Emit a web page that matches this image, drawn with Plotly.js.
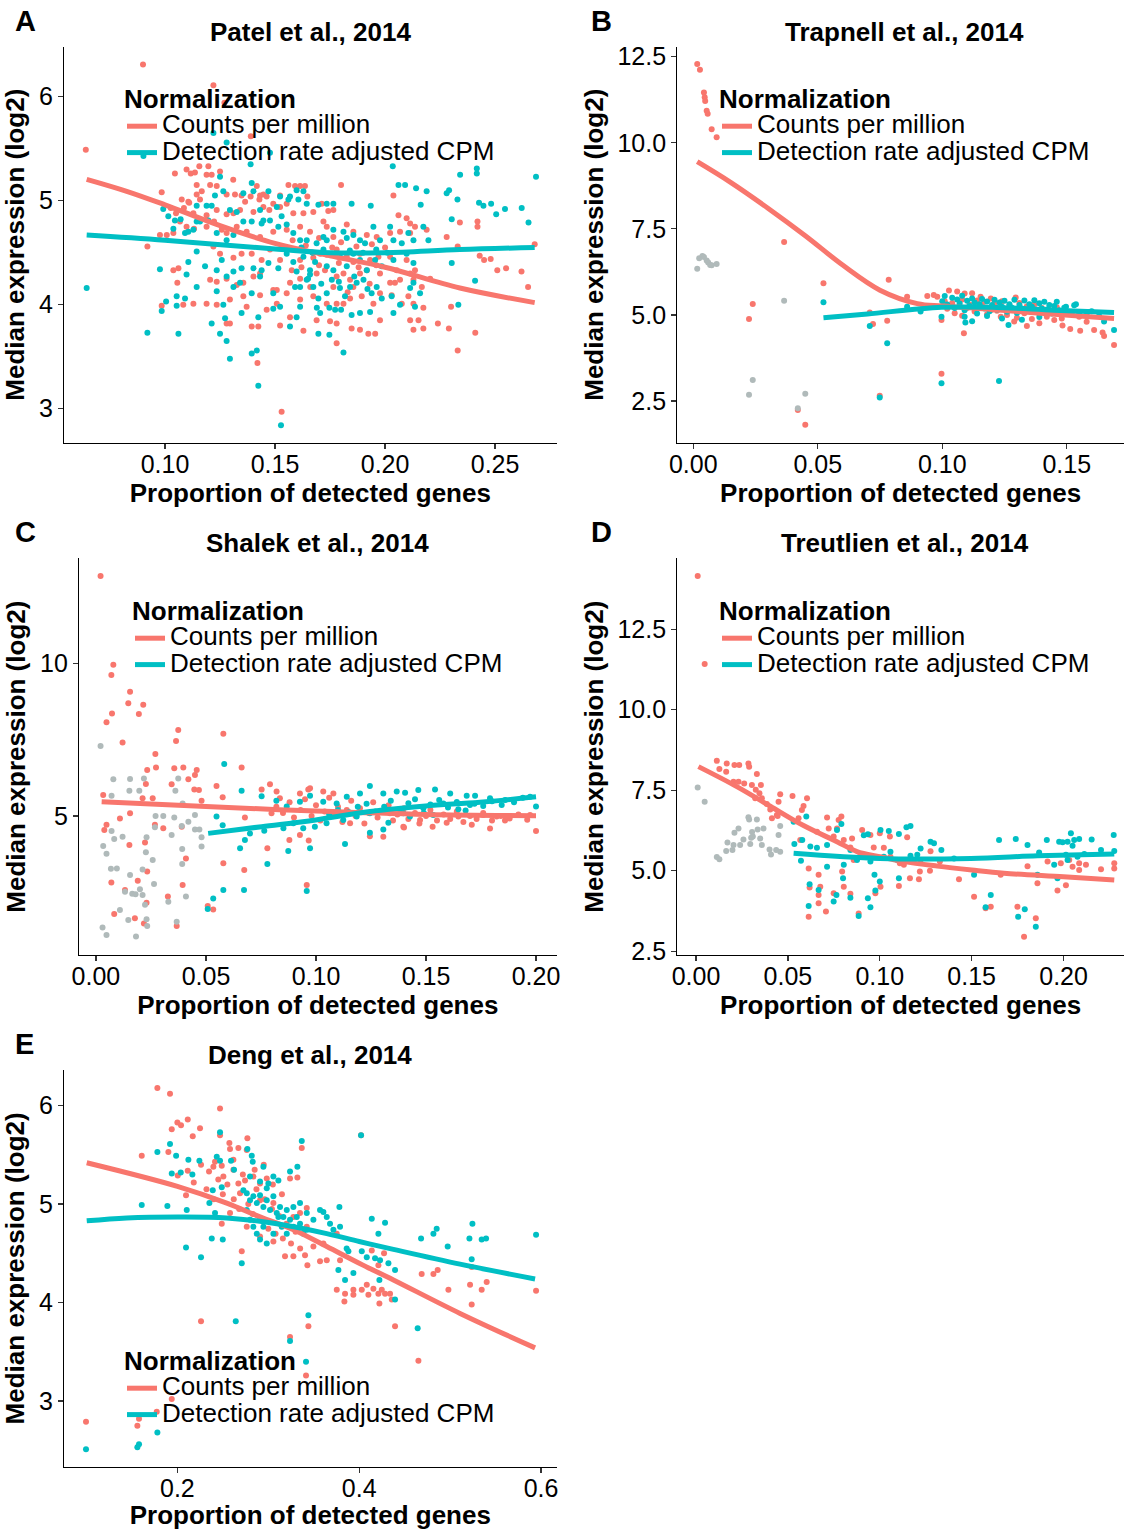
<!DOCTYPE html>
<html>
<head>
<meta charset="utf-8">
<script src="https://cdn.plot.ly/plotly-3.0.1.min.js"></script>
<style>html,body{margin:0;padding:0;background:#fff;}#chart{width:1124px;height:1530px;}</style>
</head>
<body>
<div id="chart"></div>
<script>
// ---------- Panel titles / labels ----------
const panelLetters = ['A', 'B', 'C', 'D', 'E'];
const panelTitles = ['Patel et al., 2014', 'Trapnell et al., 2014', 'Shalek et al., 2014', 'Treutlien et al., 2014', 'Deng et al., 2014'];
const seriesNames = ['Counts per million', 'Detection rate adjusted CPM'];
const legendTitle = 'Normalization';
const xAxisTitle = 'Proportion of detected genes';
const yAxisTitle = 'Median expression (log2)';

// ---------- A: Patel ----------
const patelCpm = [[0.090,6.31],[0.064,5.49],[0.122,6.11],[0.127,5.94],[0.139,5.62],[0.092,4.56],[0.153,2.97],[0.142,3.44],[0.233,3.56],[0.241,3.73],[0.268,4.58],[0.265,4.17],[0.262,4.32],[0.251,4.33],[0.255,4.35],[0.248,4.44],[0.245,4.43],[0.243,4.47],[0.242,4.75],[0.242,4.80],[0.234,4.79],[0.228,4.65],[0.229,3.77],[0.224,3.82],[0.230,3.98],[0.233,4.56],
[0.1045,5.26],[0.1098,5.30],[0.1117,5.26],[0.1136,5.27],[0.1156,5.33],[0.1197,5.33],[0.1189,5.25],[0.1212,5.25],[0.125,5.28],[0.131,5.20],
[0.0985,5.08],[0.1076,5.01],[0.111,4.98],[0.1144,5.15],[0.1144,5.06],[0.1167,5.09],[0.1205,5.15],[0.1235,5.14],[0.128,5.06],[0.1318,5.06],[0.1348,5.05],[0.1389,5.04],[0.1417,5.14],[0.1432,5.05],[0.1447,5.06],[0.1462,5.04],[0.1492,4.97],[0.1523,5.05],[0.1561,5.15],[0.1591,5.14],[0.1614,5.14],[0.1636,5.14],[0.1647,5.04],[0.180,5.15],
[0.1026,4.93],[0.105,4.88],[0.1086,4.93],[0.1106,4.99],[0.1129,4.88],[0.1159,5.01],[0.1189,4.86],[0.1235,4.91],[0.128,4.87],[0.1311,4.88],[0.1341,4.91],[0.1364,4.99],[0.1402,4.89],[0.1429,5.01],[0.1447,4.94],[0.1474,4.91],[0.1523,4.94],[0.1553,4.97],[0.1583,4.88],[0.1629,4.88],[0.1674,4.89],[0.1712,4.97],[0.1742,4.90],[0.1765,4.91],[0.2038,5.05],[0.2061,4.86],[0.2098,4.83],
[0.0977,4.67],[0.1008,4.67],[0.1038,4.69],[0.1068,4.80],[0.1098,4.75],[0.1132,4.73],[0.1189,4.75],[0.1223,4.80],[0.1258,4.72],[0.128,4.69],[0.1326,4.75],[0.1371,4.70],[0.1432,4.65],[0.1492,4.70],[0.1553,4.72],[0.1614,4.75],[0.1659,4.70],[0.172,4.80],[0.1735,4.75],[0.1765,4.65],[0.1826,4.77],[0.1856,4.70],[0.1917,4.67],[0.1962,4.65],[0.2023,4.69],[0.2068,4.70],[0.2114,4.69],[0.2136,4.75],[0.2189,4.72],[0.2114,4.78],
[0.1038,4.33],[0.1061,4.35],[0.122,4.56],[0.125,4.49],[0.1311,4.45],[0.1348,4.49],[0.1394,4.49],[0.1439,4.43],[0.1477,4.53],[0.1523,4.43],[0.1576,4.33],[0.1614,4.43],[0.1674,4.45],[0.1705,4.49],[0.1735,4.48],[0.178,4.53],[0.1826,4.46],[0.1856,4.41],[0.1886,4.49],[0.1932,4.43],[0.197,4.46],[0.2023,4.46],[0.2053,4.33],[0.2098,4.43],[0.2136,4.33],
[0.1056,4.21],[0.1205,4.24],[0.1235,4.22],[0.128,4.25],[0.1326,4.19],[0.1356,4.21],[0.1402,4.27],[0.1432,4.30],[0.1492,4.14],[0.1508,4.14],[0.1568,4.21],[0.1614,4.25],[0.1689,4.30],[0.1727,4.33],[0.1765,4.17],[0.178,4.27],[0.1811,4.30],[0.1841,4.24],[0.1856,4.17],[0.1886,4.30],[0.1917,4.33],[0.1977,4.30],[0.2023,4.21],[0.2045,4.21],[0.2068,4.24],[0.2114,4.30],[0.2167,4.17],[0.2205,4.25],[0.2129,4.24],
[0.0985,3.99],[0.1083,4.00],[0.1129,4.01],[0.1189,4.01],[0.1235,4.00],[0.1295,4.05],[0.1356,4.08],[0.1371,3.98],[0.1432,4.09],[0.1462,3.95],[0.1508,4.01],[0.1553,4.11],[0.1614,4.05],[0.1674,4.08],[0.1735,4.01],[0.178,4.01],[0.1811,4.01],[0.1841,4.06],[0.1894,4.08],[0.1947,4.01],[0.1977,4.11],[0.203,4.09],[0.2076,4.01],[0.2106,4.08],[0.2129,4.01],[0.2174,3.97],
[0.128,3.82],[0.1295,3.82],[0.1394,3.79],[0.1424,3.79],[0.1523,3.80],[0.1568,3.88],[0.1629,3.75],[0.1689,3.85],[0.175,3.84],[0.178,3.82],[0.1848,3.77],[0.1886,3.76],[0.1924,3.72],[0.1955,3.72],[0.1977,3.85],[0.2114,3.85],[0.2129,3.76],[0.2174,3.77],[0.2152,3.85],[0.178,3.63],
[0.1580,4.62],[0.1640,4.57],[0.1700,4.64],[0.1760,4.55],[0.1800,4.60],[0.1870,4.56],[0.1940,4.58],[0.2000,4.55],[0.1620,4.36],[0.1700,4.38],[0.1790,4.40],[0.1880,4.36],[0.1960,4.38],[0.1660,4.17],[0.1830,4.12],[0.1930,4.20]];

const patelAdj = [[0.0992,4.92],[0.1015,4.85],[0.1045,4.81],[0.1071,4.82],[0.1144,4.95],[0.1144,4.80],[0.1189,4.95],[0.1212,4.95],[0.1227,5.05],[0.125,5.23],[0.1265,5.09],[0.1295,4.91],[0.1326,4.89],[0.1356,5.07],[0.1394,5.17],[0.1402,5.09],[0.1432,4.91],[0.1447,4.81],[0.147,5.09],[0.1508,4.94],[0.1523,5.04],[0.153,4.85],[0.1561,5.01],[0.1568,5.04],[0.1598,5.10],[0.1606,5.01],[0.1629,5.09],[0.1644,4.97],[0.1697,4.96],[0.1735,4.97],[0.1765,4.97],[0.1848,4.97],[0.1935,4.95],[0.2061,5.15],[0.2091,5.15],[0.2141,5.12],[0.2189,5.09],[0.228,5.07],[0.2162,4.96],[0.2329,5.01],
[0.1038,4.73],[0.1091,4.69],[0.1106,4.70],[0.1129,4.72],[0.1159,4.80],[0.1197,4.81],[0.1235,4.69],[0.128,4.62],[0.1311,4.67],[0.1356,4.80],[0.1394,4.80],[0.1439,4.78],[0.1477,4.81],[0.1515,4.75],[0.1553,4.77],[0.1583,4.69],[0.1614,4.62],[0.1644,4.62],[0.1689,4.59],[0.172,4.65],[0.1735,4.62],[0.1765,4.72],[0.1811,4.70],[0.1826,4.64],[0.1856,4.67],[0.1886,4.62],[0.1909,4.59],[0.1947,4.75],[0.1977,4.62],[0.2023,4.75],[0.2038,4.62],[0.2076,4.59],[0.2106,4.69],[0.2129,4.62],[0.2174,4.75],[0.2197,4.62],
[0.0977,4.34],[0.1106,4.41],[0.1144,4.51],[0.1182,4.37],[0.1235,4.33],[0.1258,4.43],[0.1311,4.32],[0.1348,4.35],[0.1402,4.35],[0.1439,4.33],[0.147,4.40],[0.1515,4.35],[0.1553,4.49],[0.1583,4.41],[0.1598,4.32],[0.1629,4.46],[0.1659,4.33],[0.1682,4.41],[0.1735,4.37],[0.1765,4.33],[0.1795,4.46],[0.1826,4.37],[0.1856,4.49],[0.1886,4.43],[0.1917,4.33],[0.1955,4.43],[0.1985,4.37],[0.2038,4.43],[0.2098,4.49],[0.2129,4.40],[0.2303,4.40],
[0.1053,4.08],[0.1098,4.29],[0.1144,4.17],[0.1235,4.13],[0.128,4.27],[0.1311,4.17],[0.1341,4.21],[0.1394,4.11],[0.1432,4.27],[0.1492,4.11],[0.1591,4.17],[0.1614,4.17],[0.1644,4.24],[0.1659,4.29],[0.1674,4.17],[0.1697,4.06],[0.1735,4.11],[0.1758,4.24],[0.1795,4.16],[0.1818,4.08],[0.1841,4.17],[0.1871,4.21],[0.1902,4.24],[0.1939,4.11],[0.1962,4.17],[0.1985,4.06],[0.203,4.08],[0.2114,4.16],[0.2129,4.21],[0.2159,4.11],[0.2409,4.23],
[0.0985,3.94],[0.1005,4.03],[0.1053,3.99],[0.1091,4.06],[0.1265,4.00],[0.1273,3.87],[0.1348,3.92],[0.1424,3.88],[0.1492,3.96],[0.1523,3.98],[0.1568,3.79],[0.1598,3.88],[0.1614,3.98],[0.1705,3.92],[0.1747,3.97],[0.1773,3.95],[0.1848,3.90],[0.1886,3.92],[0.1932,3.93],[0.2038,3.92],[0.2068,4.00],[0.2136,3.98],[0.2333,4.00],
[0.092,3.73],[0.1061,3.72],[0.1212,3.82],[0.125,3.72],[0.128,3.65],[0.1295,3.48],[0.1394,3.53],[0.1417,3.56],[0.1424,3.22],[0.1527,2.84],[0.1697,3.72],[0.1747,3.71],[0.1811,3.54],
[0.122,5.65],[0.128,5.56],[0.1389,5.35],[0.1477,5.46],[0.0902,5.43],[0.2035,5.33],[0.2341,5.25],[0.2417,5.31],[0.2417,5.26],[0.2686,5.23],[0.2652,4.79],[0.2621,4.93],[0.2545,4.92],[0.2505,4.87],[0.2482,4.97],[0.2447,4.95],[0.2427,4.98],[0.2291,5.10],[0.2303,4.82],[0.0644,4.16],
[0.1620,4.55],[0.1670,4.50],[0.1720,4.53],[0.1780,4.48],[0.1840,4.52],[0.1900,4.50],[0.1960,4.53],[0.2010,4.50],[0.1650,4.25],[0.1710,4.20],[0.1790,4.22],[0.1860,4.27],[0.1920,4.15],[0.1690,3.97],[0.1800,3.95]];

const patelFitCpmX = [0.0644, 0.0826, 0.10, 0.125, 0.15, 0.175, 0.20, 0.234, 0.268];
const patelFitCpmY = [5.205, 5.09, 4.96, 4.76, 4.59, 4.47, 4.36, 4.16, 4.02];
const patelFitAdjX = [0.0644, 0.10, 0.15, 0.175, 0.20, 0.234, 0.268];
const patelFitAdjY = [4.67, 4.62, 4.535, 4.50, 4.50, 4.53, 4.55];

// ---------- B: Trapnell ----------
const trapnellCpm = [[0.0016,12.29],[0.0027,12.12],[0.0043,11.46],[0.0046,11.32],[0.0048,11.21],[0.0054,10.93],[0.0058,10.84],[0.0074,10.39],[0.0094,10.16],[0.0365,7.12],[0.0523,5.92],[0.0785,6.02],[0.0859,5.53],[0.0239,5.32],[0.0224,4.88],[0.042,2.24],[0.045,1.81],[0.0749,2.65],[0.0997,3.29],[0.1087,4.47],[0.0709,5.07],[0.0722,4.74],[0.0779,4.83],[0.161,4.56],[0.1644,4.49],[0.165,4.39],[0.169,4.13],[0.1554,4.54],[0.1514,4.59],[0.1483,4.69],
[0.094,5.55],[0.0966,5.58],[0.098,5.53],[0.1027,5.71],[0.106,5.68],[0.109,5.62],[0.112,5.63],[0.1154,5.53],[0.1195,5.48],[0.1295,5.51],[0.101,5.40],[0.104,5.35],[0.108,5.45],[0.111,5.30],[0.114,5.42],[0.117,5.38],[0.121,5.33],[0.124,5.40],[0.127,5.28],[0.131,5.35],[0.134,5.25],[0.137,5.30],[0.140,5.20],[0.143,5.15],[0.146,5.22],[0.149,5.10],[0.152,5.05],[0.155,4.95],[0.0997,4.85],[0.134,4.68],[0.139,4.76],[0.1289,4.81],[0.1235,4.95],[0.105,5.05],[0.108,4.98],[0.113,5.10],[0.118,5.02],[0.122,5.12],[0.126,5.00],[0.130,4.92],[0.133,5.05],[0.136,4.88],[0.142,4.95],[0.145,4.85],[0.148,4.90],[0.158,4.80],[0.102,5.18],[0.110,5.20],[0.116,5.25],[0.120,5.15],[0.128,5.18],[0.132,5.12],[0.138,5.08]];

const trapnellAdj = [[0.0523,5.37],[0.0709,4.68],[0.0779,4.18],[0.0997,3.02],[0.1228,3.08],[0.0749,2.60],[0.0859,5.24],[0.0913,5.10],[0.0997,4.95],[0.1093,4.78],[0.1266,4.71],[0.169,4.56],[0.165,4.81],[0.1537,5.31],[0.1497,5.24],
[0.100,5.40],[0.101,5.55],[0.102,5.30],[0.104,5.50],[0.105,5.20],[0.106,5.45],[0.107,5.33],[0.108,5.56],[0.109,5.14],[0.110,5.41],[0.111,5.26],[0.112,5.48],[0.113,5.36],[0.114,5.04],[0.115,5.31],[0.116,5.46],[0.117,5.19],[0.118,5.39],[0.119,5.11],[0.120,5.29],[0.121,5.44],[0.122,5.16],[0.123,5.36],[0.124,5.24],[0.125,5.41],[0.126,5.09],[0.127,5.31],[0.128,5.21],[0.129,5.44],[0.130,5.06],[0.131,5.29],[0.132,5.19],[0.133,5.42],[0.134,5.14],[0.135,5.31],[0.136,5.24],[0.137,5.43],[0.138,5.11],[0.139,5.34],[0.140,5.19],[0.141,5.38],[0.142,5.16],[0.143,5.29],[0.144,5.04],[0.145,5.26],[0.146,5.38],[0.147,5.14],[0.149,5.21],[0.151,5.09],[0.153,5.28],[0.155,5.06],[0.158,4.99],[0.109,4.95],[0.112,4.82],[0.132,4.86],[0.160,5.11],[0.163,4.97],[0.118,4.97],[0.124,4.90],[0.139,4.94]];

const trapnellBoth = [[0.0016,6.34],[0.0024,6.65],[0.0037,6.71],[0.0043,6.68],[0.0054,6.58],[0.0060,6.52],[0.0068,6.45],[0.0074,6.44],[0.0094,6.48],[0.0365,5.41],[0.0224,2.68],[0.0239,3.11],[0.042,2.29],[0.045,2.71]];

const trapnellFitCpmX = [0.0016, 0.015, 0.03, 0.045, 0.06, 0.075, 0.09, 0.10, 0.12, 0.145, 0.169];
const trapnellFitCpmY = [9.45, 8.85, 8.10, 7.30, 6.45, 5.72, 5.33, 5.26, 5.16, 5.02, 4.90];
const trapnellFitAdjX = [0.0523, 0.07, 0.0997, 0.12, 0.145, 0.169];
const trapnellFitAdjY = [4.92, 5.03, 5.22, 5.22, 5.14, 5.07];

// ---------- C: Shalek ----------
const shalekCpm = [[0.0021,12.86],[0.0079,9.95],[0.007,9.62],[0.0073,8.36],[0.0048,8.07],[0.0155,9.07],[0.0147,8.69],[0.0215,8.64],[0.0195,8.34],[0.0121,7.41],[0.027,7.03],[0.0273,6.59],[0.0233,6.51],[0.0374,7.82],[0.0364,7.46],[0.0397,6.59],[0.0356,6.56],[0.042,6.20],[0.0458,6.51],[0.045,6.34],[0.0447,5.87],[0.0468,5.85],[0.048,5.50],[0.0344,6.04],[0.0227,6.05],[0.0212,5.58],[0.0258,5.58],[0.0033,5.69],[0.0038,4.54],[0.0048,4.71],[0.0109,4.92],[0.0155,5.09],[0.0152,4.05],[0.0223,4.13],[0.0268,4.71],[0.0306,4.60],[0.039,4.65],[0.0233,3.18],[0.007,2.82],[0.0132,2.58],[0.019,2.88],[0.0083,1.79],[0.0177,1.65],[0.0218,1.48],[0.023,2.16],[0.0327,2.36],[0.0367,1.40],[0.0409,3.61],[0.0394,2.74],
[0.0579,7.69],[0.0548,5.98],[0.0576,5.61],[0.0662,6.59],[0.0579,3.45],[0.0674,3.23],[0.0508,2.05],[0.0533,1.94],[0.0779,3.94],[0.0958,2.74],[0.0677,4.95],[0.0753,5.87],[0.0791,6.04],[0.0821,5.80],[0.0836,5.58],[0.0798,5.09],[0.0879,4.21],[0.0927,4.38],[0.0967,4.20],[0.0965,5.87],[0.0973,5.91],[0.0927,5.74],[0.1033,5.80],[0.1079,5.74],[0.1245,4.34],[0.1306,4.32],[0.1397,4.65],[0.153,4.65],[0.1594,4.78],[0.1708,4.71],[0.1791,4.59],[0.1859,4.85],[0.1821,4.98],[0.20,4.51],[0.1973,5.03],[0.176,5.03],[0.1647,4.98],[0.1473,4.87],[0.1336,5.09],[0.140,4.62],[0.1155,4.76],
[0.082,5.30],[0.085,5.10],[0.088,5.45],[0.090,4.95],[0.093,5.20],[0.095,5.55],[0.098,5.00],[0.100,5.35],[0.102,4.85],[0.104,5.15],[0.106,5.60],[0.108,5.05],[0.110,5.30],[0.112,4.80],[0.114,5.20],[0.116,5.50],[0.118,5.00],[0.120,5.25],[0.122,4.75],[0.124,5.10],[0.126,5.45],[0.128,4.95],[0.130,5.15],[0.133,5.35],[0.135,4.85],[0.137,5.05],[0.140,5.25],[0.142,4.90],[0.145,5.10],[0.147,4.75],[0.150,5.00],[0.152,5.20],[0.155,4.85],[0.158,5.05],[0.161,4.90],[0.164,5.15],[0.167,4.80],[0.170,5.00],[0.173,4.90],[0.176,5.10],[0.180,4.85],[0.184,5.00],[0.188,4.92],[0.192,5.05],[0.196,4.88]];

const shalekAdj = [[0.0583,6.70],[0.0662,5.83],[0.0548,4.98],[0.0576,4.70],[0.0655,3.94],[0.0779,3.43],[0.07,4.43],[0.0765,4.52],[0.0677,4.21],[0.0874,3.85],[0.0579,2.58],[0.0673,2.58],[0.0533,2.30],[0.0508,1.95],[0.0958,2.54],[0.1132,4.08],[0.1306,4.56],[0.1245,4.45],[0.0973,3.94],[0.0753,5.65],[0.082,5.50],[0.0867,5.31],[0.0927,5.47],[0.0973,5.66],[0.1033,5.47],[0.1094,5.41],[0.114,5.63],[0.12,5.74],[0.1245,5.98],[0.1306,5.74],[0.1367,5.80],[0.1405,5.76],[0.1465,5.85],[0.1541,5.87],[0.161,5.74],[0.1685,5.66],[0.1723,5.66],[0.1791,5.58],[0.1844,5.36],[0.1973,5.63],[0.20,5.31],[0.1647,5.22],[0.1488,5.25],[0.1397,5.09],[0.1329,4.78],[0.1245,5.09],[0.1185,4.98],[0.1124,4.87],[0.1048,4.76],[0.0995,4.65],[0.0942,4.60],[0.0897,4.76],[0.0852,4.60],[0.1579,5.41],[0.17,5.36],[0.1427,4.98],[0.1533,5.03],
[0.106,5.05],[0.110,5.20],[0.115,5.12],[0.119,5.30],[0.123,5.40],[0.127,5.15],[0.131,5.30],[0.134,5.50],[0.138,5.22],[0.142,5.42],[0.145,5.55],[0.149,5.10],[0.152,5.38],[0.156,5.52],[0.160,5.28],[0.164,5.46],[0.168,5.18],[0.172,5.40],[0.176,5.33],[0.180,5.48],[0.186,5.52],[0.190,5.45],[0.194,5.60]];

const shalekBoth = [[0.0021,7.29],[0.0079,6.20],[0.0155,6.21],[0.0218,6.23],[0.0152,5.83],[0.0197,5.83],[0.0071,5.66],[0.0374,6.23],[0.0361,5.83],[0.0394,5.41],[0.045,5.03],[0.042,4.81],[0.0271,5.00],[0.0306,5.00],[0.0356,4.95],[0.039,4.67],[0.0268,4.63],[0.0344,4.38],[0.045,4.56],[0.047,4.56],[0.048,4.30],[0.048,4.00],[0.0071,4.51],[0.0083,4.25],[0.0121,4.32],[0.0033,4.02],[0.0048,3.76],[0.023,4.30],[0.0227,3.81],[0.0258,3.56],[0.0212,3.25],[0.0068,3.27],[0.0095,3.28],[0.0155,3.07],[0.0264,2.77],[0.0392,3.92],[0.0392,3.43],[0.0409,2.36],[0.0329,2.19],[0.0132,2.52],[0.0165,2.45],[0.018,2.44],[0.02,2.60],[0.0212,2.41],[0.0223,2.09],[0.0109,1.92],[0.0147,1.59],[0.023,1.62],[0.0233,1.40],[0.0367,1.54],[0.003,1.35],[0.0048,1.10],[0.0182,1.05]];

const shalekFitCpmX = [0.0026, 0.05, 0.10, 0.15, 0.20];
const shalekFitCpmY = [5.47, 5.31, 5.16, 5.05, 5.01];
const shalekFitAdjX = [0.051, 0.0753, 0.0998, 0.1245, 0.1498, 0.1745, 0.20];
const shalekFitAdjY = [4.43, 4.65, 4.87, 5.15, 5.33, 5.45, 5.63];

// ---------- D: Treutlien ----------
const treutlienCpm = [[0.0009,14.15],[0.0047,11.42],[0.0113,8.41],[0.0127,8.16],[0.0167,8.33],[0.0164,8.07],[0.0209,8.28],[0.0235,8.28],[0.0204,7.76],[0.0231,7.76],[0.0285,8.33],[0.0289,8.23],[0.0331,8.00],[0.0262,7.71],[0.0304,7.66],[0.0325,7.51],[0.0353,7.66],[0.0345,7.40],[0.0358,7.25],[0.0322,7.25],[0.0385,7.07],[0.0404,6.90],[0.0413,6.63],[0.044,6.73],[0.0458,7.37],[0.0449,7.14],[0.0444,6.70],[0.0525,7.32],[0.0604,7.25],[0.0585,7.01],[0.0576,6.88],[0.0558,6.63],[0.0567,5.95],[0.0613,5.07],[0.0618,4.48],[0.0613,3.57],[0.0667,4.87],[0.0676,4.50],[0.0667,4.24],[0.0667,3.99],[0.0707,3.73],[0.0713,6.65],[0.0722,6.31],[0.0658,6.21],[0.0767,6.31],[0.0791,6.68],[0.0776,6.57],[0.0749,6.06],[0.0804,5.95],[0.0849,6.00],[0.0795,4.97],[0.0804,4.50],[0.0749,4.30],[0.084,4.28],[0.0885,3.67],[0.0904,6.26],[0.0949,6.11],[0.0967,5.72],[0.10,6.16],[0.1022,5.71],[0.1004,4.50],[0.0976,4.30],[0.1055,6.06],[0.1104,4.52],[0.1109,5.23],[0.1149,6.04],[0.1164,4.76],[0.1213,4.73],[0.1218,4.97],[0.1273,5.00],[0.1327,5.28],[0.1431,4.73],[0.1513,4.19],[0.1576,3.83],[0.1604,3.88],[0.1658,4.87],[0.1749,3.88],[0.1785,2.95],[0.1804,5.14],[0.1849,3.52],[0.1858,4.61],[0.1913,5.28],[0.1967,4.38],[0.2013,4.55],[0.1985,5.23],[0.2031,5.33],[0.2049,5.12],[0.2085,5.23],[0.2122,5.18],[0.2085,5.02],[0.2204,5.04],[0.2276,5.07],[0.2276,5.23],[0.0858,5.33],[0.0895,5.52],[0.0840,5.72],[0.0949,5.43],[0.1058,5.43],[0.1131,5.18],[0.1222,5.33],[0.1276,5.60]];

const treutlienAdj = [[0.0531,6.52],[0.06,6.68],[0.0535,5.83],[0.0578,5.95],[0.0571,5.31],[0.0622,5.75],[0.0658,5.71],[0.0618,4.58],[0.0667,4.40],[0.0613,3.90],[0.0713,5.80],[0.0713,5.12],[0.0749,4.04],[0.0764,4.24],[0.0767,6.26],[0.0791,6.45],[0.08,4.76],[0.0804,5.18],[0.084,5.64],[0.084,4.16],[0.0885,3.59],[0.0913,6.10],[0.0935,6.13],[0.0949,3.86],[0.0935,4.14],[0.0971,4.87],[0.0976,4.38],[0.10,4.66],[0.1004,6.26],[0.1049,6.23],[0.1058,5.59],[0.1104,4.76],[0.1104,6.14],[0.1145,6.35],[0.1167,6.39],[0.1167,5.46],[0.1222,5.69],[0.1276,5.90],[0.1295,5.85],[0.1335,5.64],[0.1513,4.87],[0.1576,3.86],[0.1604,4.24],[0.1649,5.95],[0.174,5.98],[0.1753,3.57],[0.1789,3.80],[0.1804,5.80],[0.1849,3.26],[0.1858,4.87],[0.1867,5.56],[0.1909,5.95],[0.1967,4.76],[0.1976,5.90],[0.1995,5.88],[0.2022,5.90],[0.2040,6.16],[0.2049,5.77],[0.2085,5.98],[0.2058,5.95],[0.2013,5.49],[0.2022,5.33],[0.2076,5.43],[0.2113,5.52],[0.2153,5.97],[0.2204,5.64],[0.2273,6.11],[0.2276,5.61],[0.1949,5.18],[0.0876,5.33],[0.0949,5.28],[0.1022,5.43],[0.1095,5.33],[0.1204,5.49],[0.1404,5.38]];

const treutlienBoth = [[0.0009,7.58],[0.0047,7.14],[0.0113,5.42],[0.0127,5.35],[0.0164,5.61],[0.0171,5.87],[0.0204,5.80],[0.0209,6.18],[0.0231,6.31],[0.024,5.80],[0.0258,5.97],[0.0285,6.66],[0.0289,6.59],[0.0295,5.83],[0.0309,6.06],[0.0331,6.59],[0.0335,6.28],[0.0349,6.00],[0.0358,5.80],[0.0367,6.31],[0.0305,6.20],[0.0300,6.02],[0.0400,5.66],[0.0408,5.50],[0.0436,5.64],[0.0449,6.11],[0.0458,6.39],[0.0458,5.59],[0.0198,5.64]];

const treutlienFitCpmX = [0.0013, 0.0222, 0.0404, 0.0585, 0.0767, 0.0876, 0.10, 0.1131, 0.1313, 0.15, 0.1676, 0.20, 0.2276];
const treutlienFitCpmY = [8.23, 7.61, 7.00, 6.40, 5.90, 5.59, 5.43, 5.28, 5.14, 5.02, 4.92, 4.81, 4.71];
const treutlienFitAdjX = [0.0531, 0.10, 0.1495, 0.1858, 0.2276];
const treutlienFitAdjY = [5.54, 5.38, 5.38, 5.46, 5.52];

// ---------- E: Deng ----------
const dengCpm = [[0.178,6.18],[0.1919,6.12],[0.2469,5.97],[0.2,5.83],[0.204,5.80],[0.2114,5.86],[0.1938,5.76],[0.2249,5.77],[0.2169,5.69],[0.1608,5.49],[0.1901,5.53],[0.2004,5.29],[0.2114,5.34],[0.2095,5.09],[0.2348,5.33],[0.2396,5.38],[0.2414,5.43],[0.2469,5.70],[0.2488,5.39],[0.2572,5.62],[0.2579,5.56],[0.2671,5.57],[0.2616,5.45],[0.2506,5.28],[0.277,5.67],[0.2763,5.55],[0.2616,5.35],[0.2671,5.21],[0.2744,5.24],[0.2836,5.28],[0.2909,5.21],[0.2983,5.26],[0.2689,5.11],[0.2909,5.04],[0.3056,5.01],[0.2488,4.80],[0.2579,4.91],[0.2708,4.52],[0.2763,4.77],[0.2909,4.67],[0.3056,4.62],[0.3184,4.47],[0.3276,4.47],[0.3368,5.57],[0.3239,5.26],[0.332,5.27],[0.3276,4.87],[0.3349,4.91],[0.3423,4.96],[0.3423,4.77],[0.3404,4.48],[0.343,4.38],[0.3569,4.42],[0.3643,4.43],[0.3606,4.60],[0.3753,4.70],[0.3496,4.57],[0.3789,4.43],[0.3753,4.13],[0.3837,4.01],[0.3844,4.09],[0.3936,4.13],[0.3936,4.08],[0.4028,4.13],[0.4083,4.18],[0.4101,4.08],[0.4156,4.14],[0.4211,4.09],[0.4222,3.99],[0.4248,4.13],[0.4284,4.09],[0.4339,4.09],[0.4358,4.03],[0.4138,4.53],[0.4211,4.38],[0.4273,4.50],[0.4394,3.76],[0.4651,3.41],[0.4687,4.29],[0.4816,4.29],[0.4863,4.33],[0.4981,4.13],[0.5219,4.18],[0.5237,3.98],[0.5347,4.13],[0.5402,4.21],[0.5237,4.36],[0.5945,4.12],[0.402,5.70],[0.226,3.81],[0.3441,3.76],[0.3239,3.65],[0.3415,3.26],[0.0995,2.79],[0.156,2.75],[0.1578,2.82],[0.1773,2.89],[0.1938,3.02],
[0.255,5.20],[0.262,5.05],[0.268,4.95],[0.272,5.30],[0.278,5.00],[0.283,4.90],[0.287,5.15],[0.292,4.85],[0.296,5.05],[0.300,4.75],[0.304,4.95],[0.308,4.70],[0.312,4.88],[0.316,4.65],[0.320,4.80],[0.325,4.60],[0.330,4.72],[0.335,4.55],[0.285,5.35],[0.295,5.40],[0.305,5.20],[0.315,5.10],[0.250,5.10],[0.245,5.25],[0.240,5.05],[0.232,5.15],[0.226,5.40],[0.218,5.22]];

const dengAdj = [[0.2469,5.73],[0.402,5.70],[0.3368,5.64],[0.178,5.53],[0.1919,5.61],[0.1986,5.49],[0.2121,5.45],[0.2242,5.44],[0.1938,5.31],[0.2037,5.32],[0.2165,5.30],[0.2433,5.48],[0.2469,5.44],[0.259,5.44],[0.2623,5.35],[0.277,5.56],[0.2818,5.49],[0.2829,5.43],[0.2389,5.14],[0.2488,5.17],[0.2352,5.01],[0.2414,4.91],[0.1608,4.99],[0.189,4.98],[0.2103,4.94],[0.2378,4.65],[0.2499,4.64],[0.2095,4.56],[0.226,4.46],[0.2708,4.40],[0.2642,3.81],[0.3239,3.61],[0.3441,3.87],[0.3415,3.40],[0.3239,5.33],[0.332,5.38],
[0.2726,5.14],[0.2763,5.11],[0.2799,5.04],[0.2836,5.08],[0.2873,5.01],[0.2909,5.09],[0.2946,4.97],[0.2983,5.04],[0.3019,4.94],[0.3056,5.08],[0.3093,4.91],[0.3129,4.97],[0.3166,4.87],[0.3203,4.94],[0.3239,4.84],[0.3276,4.77],[0.3313,4.87],[0.3349,4.80],[0.3386,4.70],[0.3423,4.74],[0.2763,4.94],[0.2799,4.84],[0.2836,4.77],[0.2873,4.70],[0.2909,4.64],[0.2946,4.77],[0.2983,4.60],[0.3056,4.70],[0.3111,4.87],[0.3148,4.77],[0.3203,4.70],[0.3276,4.97],[0.3349,5.01],[0.3423,4.91],[0.3496,4.84],[0.3569,4.94],[0.3606,4.92],[0.3643,4.87],[0.3679,4.80],[0.3716,4.74],[0.3789,4.77],[0.2909,4.84],[0.2799,5.28],[0.2909,5.23],[0.2983,5.16],[0.3056,5.28],[0.3111,5.24],[0.2946,5.38],[0.3001,5.21],
[0.3771,4.33],[0.3844,4.23],[0.3936,4.30],[0.4028,4.52],[0.4083,4.46],[0.4138,4.85],[0.4174,4.45],[0.4211,4.70],[0.4229,4.43],[0.4284,4.81],[0.4321,4.40],[0.4394,4.33],[0.4394,4.03],[0.4222,4.23],[0.3782,4.97],[0.3862,4.55],[0.3881,4.52],[0.4643,3.74],[0.468,4.65],[0.4816,4.70],[0.4852,4.75],[0.4973,4.57],[0.5212,4.65],[0.5245,4.80],[0.5237,4.44],[0.5347,4.64],[0.5395,4.65],[0.5945,4.69],[0.0995,2.51],[0.156,2.53],[0.1578,2.56],[0.178,2.68]];

const dengFitCpmX = [0.1003, 0.2, 0.2543, 0.2909, 0.3276, 0.3643, 0.40, 0.4376, 0.5109, 0.5934];
const dengFitCpmY = [5.42, 5.18, 5.01, 4.87, 4.74, 4.57, 4.40, 4.23, 3.89, 3.54];
const dengFitAdjX = [0.1003, 0.1443, 0.2, 0.2543, 0.3093, 0.3643, 0.40, 0.4376, 0.5109, 0.5934];
const dengFitAdjY = [4.83, 4.86, 4.87, 4.86, 4.80, 4.70, 4.62, 4.54, 4.39, 4.24];

// ---------- Axis tick values ----------
const patelXTicks = [0.10, 0.15, 0.20, 0.25];
const patelYTicks = [3, 4, 5, 6];
const trapnellXTicks = [0.00, 0.05, 0.10, 0.15];
const trapnellYTicks = [2.5, 5.0, 7.5, 10.0, 12.5];
const shalekXTicks = [0.00, 0.05, 0.10, 0.15, 0.20];
const shalekYTicks = [5, 10];
const treutlienXTicks = [0.00, 0.05, 0.10, 0.15, 0.20];
const treutlienYTicks = [2.5, 5.0, 7.5, 10.0, 12.5];
const dengXTicks = [0.2, 0.4, 0.6];
const dengYTicks = [3, 4, 5, 6];

// ---------- Styling ----------
const FONT = 'Liberation Sans, Arial, Helvetica, sans-serif';
const RED = '#F8766D', TEAL = '#00BFC4', GRAY = '#B0BABA';
const W = 1124, H = 1530;

const panels = [
  {cpm: patelCpm, adj: patelAdj, both: [], fc: [patelFitCpmX, patelFitCpmY], fa: [patelFitAdjX, patelFitAdjY],
   xt: patelXTicks, yt: patelYTicks, xf: '.2f', yf: 'd', xr: [0.0541, 0.2780], yr: [2.673, 6.48],
   dom: [[64, 556.7], [46.7, 442.7]], leg: [122, 69]},
  {cpm: trapnellCpm, adj: trapnellAdj, both: trapnellBoth, fc: [trapnellFitCpmX, trapnellFitCpmY], fa: [trapnellFitAdjX, trapnellFitAdjY],
   xt: trapnellXTicks, yt: trapnellYTicks, xf: '.2f', yf: '.1f', xr: [-0.0064, 0.173], yr: [1.29, 12.79],
   dom: [[677.3, 1124], [46.7, 442.7]], leg: [717, 69]},
  {cpm: shalekCpm, adj: shalekAdj, both: shalekBoth, fc: [shalekFitCpmX, shalekFitCpmY], fa: [shalekFitAdjX, shalekFitAdjY],
   xt: shalekXTicks, yt: shalekYTicks, xf: '.2f', yf: 'd', xr: [-0.0077, 0.2094], yr: [0.447, 13.44],
   dom: [[79, 556.7], [558.3, 955]], leg: [130, 581]},
  {cpm: treutlienCpm, adj: treutlienAdj, both: treutlienBoth, fc: [treutlienFitCpmX, treutlienFitCpmY], fa: [treutlienFitAdjX, treutlienFitAdjY],
   xt: treutlienXTicks, yt: treutlienYTicks, xf: '.2f', yf: '.1f', xr: [-0.0102, 0.2329], yr: [2.38, 14.70],
   dom: [[677.3, 1124], [558.3, 955]], leg: [717, 581]},
  {cpm: dengCpm, adj: dengAdj, both: [], fc: [dengFitCpmX, dengFitCpmY], fa: [dengFitAdjX, dengFitAdjY],
   xt: dengXTicks, yt: dengYTicks, xf: '.1f', yf: 'd', xr: [0.0753, 0.6172], yr: [2.333, 6.362],
   dom: [[64, 556.7], [1070, 1466.7]], leg: [122, 1331]}
];

const traces = [];
const layout = {
  width: W, height: H, margin: {l: 0, r: 0, t: 0, b: 0},
  paper_bgcolor: '#fff', plot_bgcolor: '#fff',
  font: {family: FONT, size: 25, color: '#000'},
  showlegend: true, annotations: [], hovermode: false
};

panels.forEach((p, i) => {
  const n = i + 1;
  const xa = n === 1 ? 'x' : 'x' + n;
  const ya = n === 1 ? 'y' : 'y' + n;
  const legName = n === 1 ? 'legend' : 'legend' + n;
  const mk = (arr, color) => ({
    type: 'scatter', mode: 'markers', xaxis: xa, yaxis: ya,
    x: arr.map(d => d[0]), y: arr.map(d => d[1]),
    marker: {color: color, size: 6, line: {width: 0}}, showlegend: false, hoverinfo: 'skip', cliponaxis: true
  });
  traces.push(mk(p.cpm, RED));
  traces.push(mk(p.adj, TEAL));
  if (p.both.length) traces.push(mk(p.both, GRAY));
  const ln = (fit, color, name) => ({
    type: 'scatter', mode: 'lines', xaxis: xa, yaxis: ya, x: fit[0], y: fit[1],
    name: '<span style="font-size:26px">' + name + '</span>',
    line: {color: color, width: 5, shape: 'spline', smoothing: 1}, legend: legName, showlegend: true, hoverinfo: 'skip'
  });
  traces.push(ln(p.fc, RED, seriesNames[0]));
  traces.push(ln(p.fa, TEAL, seriesNames[1]));

  const xdom = [p.dom[0][0] / W, Math.min(1, p.dom[0][1] / W)];
  const ydom = [1 - p.dom[1][1] / H, 1 - p.dom[1][0] / H];
  const axBase = {
    showgrid: false, zeroline: false, showline: true, linecolor: '#000', linewidth: 1.2,
    ticks: 'outside', ticklen: 5, tickwidth: 1.2, tickcolor: '#333', mirror: false,
    tickfont: {family: FONT, size: 25, color: '#000'}, fixedrange: true
  };
  layout[n === 1 ? 'xaxis' : 'xaxis' + n] = Object.assign({}, axBase, {
    domain: xdom, anchor: ya, range: p.xr, tickvals: p.xt, tickformat: p.xf, ticklabelstandoff: -6,
    title: {text: '<b>' + xAxisTitle + '</b>', font: {family: FONT, size: 26, color: '#000'}, standoff: 4}
  });
  layout[n === 1 ? 'yaxis' : 'yaxis' + n] = Object.assign({}, axBase, {
    domain: ydom, anchor: xa, range: p.yr, tickvals: p.yt, tickformat: p.yf,
    title: {text: '<b>' + yAxisTitle + '</b>', font: {family: FONT, size: 26, color: '#000'}, standoff: 6}
  });
  layout[legName] = {
    x: p.leg[0] / W, y: 1 - p.leg[1] / H, xanchor: 'left', yanchor: 'top',
    bgcolor: 'rgba(0,0,0,0)', borderwidth: 0,
    font: {family: FONT, size: 18, color: '#000'},
    title: {text: '<span style="font-size:26px"><b>' + legendTitle + '</b></span>', font: {family: FONT, size: 30, color: '#000'}, side: 'top'},
    tracegroupgap: 0, itemwidth: 30
  };
  // panel letter
  const letterX = i % 2 === 0 ? 13 : 589;
  layout.annotations.push({
    xref: 'paper', yref: 'paper', x: letterX / W, y: 1 - (p.dom[1][0] - 26) / H,
    xanchor: 'left', yanchor: 'middle', showarrow: false,
    text: '<b>' + panelLetters[i] + '</b>', font: {family: FONT, size: 29, color: '#000'}
  });
  // panel title
  layout.annotations.push({
    xref: 'paper', yref: 'paper', x: (xdom[0] + xdom[1]) / 2 + (i % 2 === 1 ? 4 / W : 0), y: 1 - (p.dom[1][0] - 15) / H,
    xanchor: 'center', yanchor: 'middle', showarrow: false,
    text: '<b>' + panelTitles[i] + '</b>', font: {family: FONT, size: 26, color: '#000'}
  });
});

Plotly.newPlot('chart', traces, layout, {staticPlot: true, displayModeBar: false});
</script>
</body>
</html>
